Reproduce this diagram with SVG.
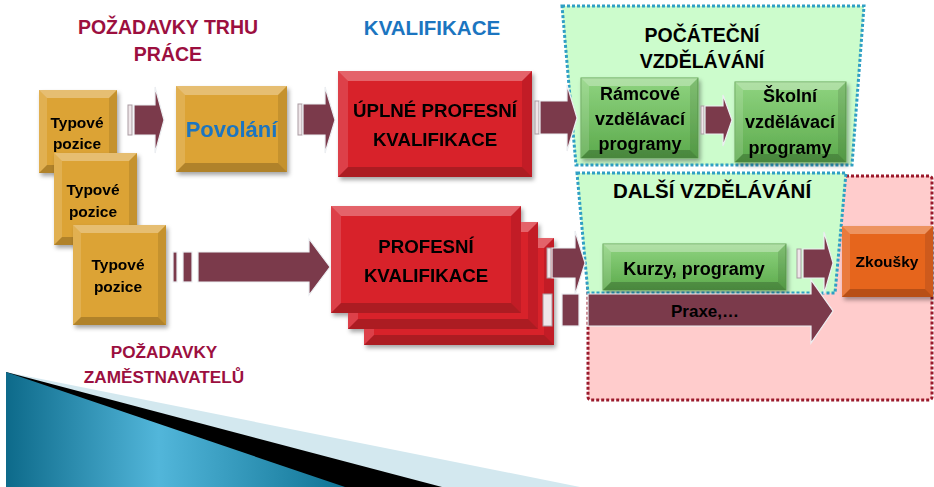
<svg xmlns="http://www.w3.org/2000/svg" width="934" height="487" viewBox="0 0 934 487">
<defs>
<style>
.t{font-family:"Liberation Sans",Arial,sans-serif;font-weight:bold;text-anchor:middle;fill:#000}
.title{fill:#9c0f3f}
.blue{fill:#1b75c0}
.gold{fill:#dca335}
.red{fill:#d8222c}
.orange{fill:#e6651e}
.green{fill:url(#gGreen);stroke:#63a555;stroke-width:1}
.bt{fill:#fff;fill-opacity:.3}
.bl{fill:#fff;fill-opacity:.14}
.br{fill:#000;fill-opacity:.1}
.bb{fill:#000;fill-opacity:.2}
.arr{fill:#7b3a4b;stroke:#eceff2;stroke-width:1.2}
.pale{fill:#efe6e9;stroke:#a99ba1;stroke-width:1}
.regG{fill:#ccfccc;stroke:#2f9fc4;stroke-width:3;stroke-dasharray:3 2}
.regP{fill:#ffcccc;stroke:#9b1a2c;stroke-width:3;stroke-dasharray:3 2}
</style>
<linearGradient id="gGreen" x1="0" y1="0" x2="0" y2="1">
<stop offset="0" stop-color="#8fd480"/>
<stop offset="1" stop-color="#5caa4c"/>
</linearGradient>
<linearGradient id="gWedge" x1="0" y1="0" x2="1" y2="0">
<stop offset="0" stop-color="#0d6a8a"/>
<stop offset="0.45" stop-color="#52b6da"/>
<stop offset="1" stop-color="#0f7394"/>
</linearGradient>
<filter id="sh" x="-10%" y="-10%" width="130%" height="130%">
<feDropShadow dx="2" dy="3" stdDeviation="2" flood-color="#000" flood-opacity="0.35"/>
</filter>
</defs>

<g id="decor">
<polygon points="6,372 580,487 6,487" fill="#d3e8ef"/>
<polygon points="6,372 442,487 6,487" fill="#000"/>
<polygon points="6,372 345,487 6,487" fill="url(#gWedge)"/>
</g>

<g id="title-trh">
<text class="t title" x="168" y="34" font-size="19.5">POŽADAVKY TRHU</text>
<text class="t title" x="168" y="61" font-size="19.5">PRÁCE</text>
</g>
<g id="title-kval">
<text class="t blue" x="432" y="35" font-size="20.5">KVALIFIKACE</text>
</g>
<g id="title-zam">
<text class="t title" x="164" y="358" font-size="17.2">POŽADAVKY</text>
<text class="t title" x="164" y="383" font-size="17.2">ZAMĚSTNAVATELŮ</text>
</g>

<g id="region-dalsi-pink">
<rect class="regP" x="588" y="176" width="344" height="224" rx="3"/>
</g>
<g id="region-pocatecni">
<polygon class="regG" points="562,6 864,6 852,165 576,165"/>
<text class="t" x="702" y="42" font-size="19.5">POČÁTEČNÍ</text>
<text class="t" x="702" y="68" font-size="19.5">VZDĚLÁVÁNÍ</text>
</g>
<g id="region-dalsi">
<polygon class="regG" points="577,173 846,173 835,293 588,293"/>
<text class="t" x="712" y="198" font-size="20.5">DALŠÍ VZDĚLÁVÁNÍ</text>
</g>

<g id="typove1" filter="url(#sh)">
<rect class="gold" x="39" y="90" width="78" height="83"/>
<polygon class="bt" points="39,90 117,90 109,98 47,98"/>
<polygon class="bl" points="39,90 47,98 47,165 39,173"/>
<polygon class="br" points="117,90 117,173 109,165 109,98"/>
<polygon class="bb" points="39,173 117,173 109,165 47,165"/>
<text class="t" x="77" y="128" font-size="15.5">Typové</text>
<text class="t" x="77" y="149" font-size="15.5">pozice</text>
</g>
<g id="typove2" filter="url(#sh)">
<rect class="gold" x="54" y="153" width="83" height="92"/>
<polygon class="bt" points="54,153 137,153 129,161 62,161"/>
<polygon class="bl" points="54,153 62,161 62,237 54,245"/>
<polygon class="br" points="137,153 137,245 129,237 129,161"/>
<polygon class="bb" points="54,245 137,245 129,237 62,237"/>
<text class="t" x="93" y="195" font-size="15.5">Typové</text>
<text class="t" x="93" y="217" font-size="15.5">pozice</text>
</g>
<g id="typove3" filter="url(#sh)">
<rect class="gold" x="73" y="225" width="93" height="100"/>
<polygon class="bt" points="73,225 166,225 158,233 81,233"/>
<polygon class="bl" points="73,225 81,233 81,317 73,325"/>
<polygon class="br" points="166,225 166,325 158,317 158,233"/>
<polygon class="bb" points="73,325 166,325 158,317 81,317"/>
<text class="t" x="118" y="270" font-size="15.5">Typové</text>
<text class="t" x="118" y="292" font-size="15.5">pozice</text>
</g>
<g id="povolani" filter="url(#sh)">
<rect class="gold" x="176" y="86" width="111" height="86"/>
<polygon class="bt" points="176,86 287,86 278,95 185,95"/>
<polygon class="bl" points="176,86 185,95 185,163 176,172"/>
<polygon class="br" points="287,86 287,172 278,163 278,95"/>
<polygon class="bb" points="176,172 287,172 278,163 185,163"/>
<text class="t blue" x="231.5" y="137" font-size="22">Povolání</text>
</g>
<g id="uplne-pk" filter="url(#sh)">
<rect class="red" x="338" y="71" width="194" height="106"/>
<polygon class="bt" points="338,71 532,71 522,81 348,81"/>
<polygon class="bl" points="338,71 348,81 348,167 338,177"/>
<polygon class="br" points="532,71 532,177 522,167 522,81"/>
<polygon class="bb" points="338,177 532,177 522,167 348,167"/>
<text class="t" x="435" y="117" font-size="18.7">ÚPLNÉ PROFESNÍ</text>
<text class="t" x="435" y="146" font-size="18.7">KVALIFIKACE</text>
</g>
<g id="profesni-kval" filter="url(#sh)">
<rect class="red" x="364" y="238" width="190" height="107"/>
<polygon class="bt" points="364,238 554,238 544,248 374,248"/>
<polygon class="bl" points="364,238 374,248 374,335 364,345"/>
<polygon class="br" points="554,238 554,345 544,335 544,248"/>
<polygon class="bb" points="364,345 554,345 544,335 374,335"/>
<rect class="red" x="348" y="222" width="190" height="107"/>
<polygon class="bt" points="348,222 538,222 528,232 358,232"/>
<polygon class="bl" points="348,222 358,232 358,319 348,329"/>
<polygon class="br" points="538,222 538,329 528,319 528,232"/>
<polygon class="bb" points="348,329 538,329 528,319 358,319"/>
<rect class="red" x="331" y="206" width="190" height="107"/>
<polygon class="bt" points="331,206 521,206 511,216 341,216"/>
<polygon class="bl" points="331,206 341,216 341,303 331,313"/>
<polygon class="br" points="521,206 521,313 511,303 511,216"/>
<polygon class="bb" points="331,313 521,313 511,303 341,303"/>
<text class="t" x="426" y="253" font-size="18.7">PROFESNÍ</text>
<text class="t" x="426" y="282" font-size="18.7">KVALIFIKACE</text>
</g>
<g id="ramcove" filter="url(#sh)">
<rect class="green" x="581" y="78" width="117" height="80"/>
<polygon class="bt" points="581,78 698,78 690,86 589,86"/>
<polygon class="bl" points="581,78 589,86 589,150 581,158"/>
<polygon class="br" points="698,78 698,158 690,150 690,86"/>
<polygon class="bb" points="581,158 698,158 690,150 589,150"/>
<text class="t" x="640" y="100" font-size="18">Rámcové</text>
<text class="t" x="640" y="125" font-size="18">vzdělávací</text>
<text class="t" x="640" y="150" font-size="18">programy</text>
</g>
<g id="skolni" filter="url(#sh)">
<rect class="green" x="735" y="82" width="111" height="80"/>
<polygon class="bt" points="735,82 846,82 838,90 743,90"/>
<polygon class="bl" points="735,82 743,90 743,154 735,162"/>
<polygon class="br" points="846,82 846,162 838,154 838,90"/>
<polygon class="bb" points="735,162 846,162 838,154 743,154"/>
<text class="t" x="790" y="102" font-size="18">Školní</text>
<text class="t" x="790" y="128" font-size="18">vzdělávací</text>
<text class="t" x="790" y="154" font-size="18">programy</text>
</g>
<g id="kurzy" filter="url(#sh)">
<rect class="green" x="603" y="244" width="183" height="46"/>
<polygon class="bt" points="603,244 786,244 778,252 611,252"/>
<polygon class="bl" points="603,244 611,252 611,282 603,290"/>
<polygon class="br" points="786,244 786,290 778,282 778,252"/>
<polygon class="bb" points="603,290 786,290 778,282 611,282"/>
<text class="t" x="694" y="275" font-size="18">Kurzy, programy</text>
</g>
<g id="zkousky" filter="url(#sh)">
<rect class="orange" x="842" y="226" width="91" height="71"/>
<polygon class="bt" points="842,226 933,226 925,234 850,234"/>
<polygon class="bl" points="842,226 850,234 850,289 842,297"/>
<polygon class="br" points="933,226 933,297 925,289 925,234"/>
<polygon class="bb" points="842,297 933,297 925,289 850,289"/>
<text class="t" x="887" y="267" font-size="15.5">Zkoušky</text>
</g>

<g id="connectors">
<rect class="pale" x="128" y="105" width="4" height="30"/>
<polygon class="arr" points="134,105 155,105 155,87 164,120 155,153 155,135 134,135"/>
<rect class="pale" x="298" y="104" width="4" height="31"/>
<polygon class="arr" points="303,104 325,104 325,87 335,120 325,153 325,135 303,135"/>
<rect class="pale" x="535" y="101" width="4" height="33"/>
<polygon class="arr" points="540,101 567,101 567,85 577,118 567,151 567,134 540,134"/>
<rect class="pale" x="701" y="106" width="3" height="28"/>
<polygon class="arr" points="705,106 723,106 723,95 732,120 723,146 723,134 705,134"/>
<rect class="arr" x="173" y="252" width="4" height="30"/>
<rect class="arr" x="183" y="252" width="9" height="30"/>
<polygon class="arr" points="198,252 309,252 309,239 330,267 309,295 309,282 198,282"/>
<rect class="pale" x="547" y="248" width="4" height="30"/>
<polygon class="arr" points="552,248 575,248 575,231 585,263 575,295 575,278 552,278"/>
<rect class="pale" x="797" y="249" width="4" height="29"/>
<polygon class="arr" points="803,249 824,249 824,232 833,263 824,294 824,278 803,278"/>
<rect class="pale" x="543" y="294" width="9" height="32"/>
<rect class="arr" x="562" y="294" width="17" height="32"/>
<polygon class="arr" points="588,294 811,294 811,280 833,311 811,343 811,326 588,326"/>
<text class="t" x="705" y="317" font-size="17">Praxe,…</text>
</g>
</svg>
